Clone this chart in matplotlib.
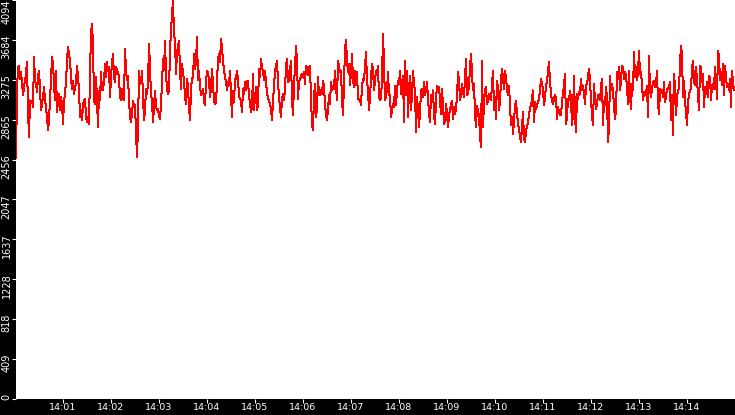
import matplotlib
matplotlib.use("Agg")
import matplotlib.pyplot as plt
import matplotlib.dates as mdates
import matplotlib.transforms as mtransforms
import pandas as pd

# sampled signal, one reading every 1.25 s starting 14:00:01.25
seg1 = [2470, 3166, 3405, 3422, 3285, 3353, 3251, 3115, 3200, 3268,
        3336, 3456, 2961, 2688, 3063, 3046, 3063, 2995, 3507, 3268,
        3234, 3149, 3302, 3370, 3183, 2961, 3029, 3098, 3200, 3063,
        2995, 2893, 2756, 2859, 3063, 3285, 3507, 3439, 3234, 3063,
        3370, 2944, 3063, 3132, 2961, 3098, 3029, 2825, 3063, 3132,
        3251, 3473, 3609, 3541, 3473, 3302, 3183, 3268, 3132, 3200,
        3234, 3422, 3302, 3166, 2893, 2961, 2859, 3012, 3063, 3081,
        2893, 2842, 2893, 2825, 3336, 3746, 3848, 3643, 3063, 3029,
        3302, 3063, 2790, 3166, 3063, 3353, 3166, 3166, 3268, 3439]
seg2 = [3302, 3456, 3370, 3405, 3098, 3302, 3456, 3541, 3302, 3251,
        3405, 3370, 3353, 3302, 3098, 3063, 3183, 3081, 3063, 3592,
        3370, 3268, 3319, 3063, 2893, 2842, 2927, 3063, 2995, 3012,
        2756, 2483, 2790, 3370, 3234, 3251, 3370, 3098, 2859, 2961,
        3183, 3132, 3234, 3643, 3405, 3115, 3063, 2842, 2995, 3166,
        2995, 2961, 2978, 2910, 2876, 3029, 3234, 3490, 3370, 3678,
        3336, 3183, 3132, 3166, 3575, 3780, 3951, 4090, 3746, 3678,
        3336, 3558, 3609, 3678, 3370, 3183, 3439, 3353, 3268, 3098,
        3029, 3285, 3200, 2995]
seg3 = [2859, 3183, 3285, 3302, 3541, 3388, 3456, 3712, 3268, 3370,
        3217, 3115, 3149, 3183, 3063, 3012, 3251, 3370, 3353, 3268,
        3098, 3183, 3388, 3234, 3063, 3029, 3046, 3251, 3490, 3541,
        3456, 3695, 3609, 3456, 3388, 3285, 3268, 3166, 3251, 3217,
        3370, 3132, 2893, 3166, 3046, 3285, 3285, 3370, 3268, 3115,
        3081, 3063, 2944, 3183, 3132, 3251, 3166, 3268, 3268, 3098,
        3046, 2944, 2995, 3336, 2961, 3098, 3200, 2961, 3029, 3388,
        3302, 3490, 3388, 3370, 3268, 3370, 3251, 3149, 3081, 3063,
        3029, 2978, 2859, 3063, 3200]
seg4 = [3370, 3405, 3473, 3251, 3098, 2978, 2893, 3081, 3132, 3063,
        3183, 3405, 3490, 3251, 3268, 3370, 3473, 3063, 2910, 3234,
        3405, 3626, 3456, 3081, 3268, 3268, 3319, 3336, 3302, 3353,
        3234, 3422, 3405, 3319, 3405, 3422, 3081, 2825, 2756, 3098,
        3234, 2893, 2995, 3302, 3115, 3115, 3166, 3132, 3268, 3200,
        3029, 2910, 2859, 2978, 3115, 3029, 3251, 3166, 3217, 3183,
        3370, 3200, 3063, 3473, 3405, 3353, 3370, 3063, 2910, 3234,
        3592, 3684, 3473, 3353, 3439, 3217, 3353, 3541, 3268, 3200,
        3370, 3217, 3353, 3081, 3063, 3081, 3012, 3217, 3285, 3268,
        3405, 3558, 3268, 3166, 2961, 3098, 3302, 3439, 3388, 3166,
        3268, 3370, 3336, 3422, 3098, 3063, 3081, 3285, 3746, 3439,
        3063, 3115, 3166, 3353, 3115]
seg5 = [3115, 2893, 2961, 3029, 2995, 3217, 3012, 3166, 3268, 3234,
        3370, 3132, 3234, 3319, 2842, 3473, 3115, 3370, 2893, 3166,
        3319, 2961, 3132, 3370, 3234, 3166, 2739, 3098, 2961, 2790,
        2944, 3166, 3183, 3098, 3251, 3115, 3166, 3251, 3081, 2927,
        2842, 3115, 3063, 3166, 2910, 2825, 3063, 3217, 3166, 3200,
        3063, 2927, 3183, 2995, 2825, 2859, 3029, 2927, 2790, 2910,
        2961, 3029, 3063, 2876, 2995, 2927, 2978, 3098, 3353, 3268,
        3063, 3132, 3234, 3149, 3098, 3285, 3490, 3115, 3132, 3217,
        3405, 3541, 3336, 3166, 3234, 2927, 2790, 3012, 2944, 2910,
        2705, 2586, 3473, 2790, 3046, 3166, 3200, 3029, 3063, 3132,
        3081, 3063, 3234, 3370, 2961, 3098, 2876, 3268, 3183, 2961,
        3063, 3268, 3388, 3285, 3183]
seg6 = [3370, 3285, 3183, 3115, 3217, 3012, 2808, 2893, 2722, 2859,
        2995, 3063, 2927, 2825, 2773, 2688, 2637, 2790, 2944, 2671,
        2637, 2756, 2790, 2842, 2910, 2995, 3012, 3081, 3166, 2842,
        3046, 2978, 3012, 3046, 3081, 3166, 3285, 3234, 3183, 3012,
        3098, 3217, 3251, 3370, 3456, 3251, 3132, 3063, 3029, 3081,
        3115, 3098, 2876, 2995, 2944, 2910, 2910, 3046, 3132, 3217,
        3336, 2825, 2893, 3081, 3063, 3166, 3081, 2808, 2927, 3319,
        2893, 2739, 3132, 3081, 3149, 3132, 3285, 3166, 3217, 3132,
        3029, 3217, 3234, 3302, 3388, 3268, 3063, 2910, 2808, 3234,
        3063, 2978, 3029, 3115, 3081, 3063, 3200, 3285, 2808, 3063,
        3012, 3200, 3098, 2637, 2790, 3319, 3166, 3234, 3166, 2995,
        2876, 2961, 3353, 3285, 3405]
seg7 = [3166, 3268, 3422, 3405, 3285, 3353, 3319, 3200, 3029, 3370,
        3098, 2978, 3234, 3166, 3558, 3302, 3405, 3268, 3353, 3575,
        3336, 3353, 3234, 3063, 3149, 3115, 3132, 3217, 2893, 3524,
        3166, 3098, 3183, 3251, 3268, 3200, 3217, 3370, 3029, 2927,
        3183, 3149, 3166, 3098, 3251, 3046, 3098, 3183, 3183, 3200,
        3251, 2859, 3115, 2705, 3336, 3200, 2910, 3098, 3166, 3183,
        3439, 3626, 3524, 3098, 3268, 3063, 2944, 2808, 3046, 3115,
        3166, 3183, 3388, 3473, 3268, 3217, 3405, 3268, 3132, 2961,
        3422, 3405, 3251, 3336, 2995, 3200, 3132, 3251, 3098, 3319,
        3302, 3063, 3217, 3234, 3183, 3405, 3268, 3081, 3575, 3524,
        3268, 3353, 3217, 3439, 3115, 3422, 3302, 3200, 3234, 3166,
        3285, 2995, 3370, 3251, 3166]

values = seg1 + seg2 + seg3 + seg4 + seg5 + seg6 + seg7

start = pd.Timestamp("2000-01-01 14:00:01.250")
step = pd.Timedelta(milliseconds=1250)
times = pd.date_range(start, periods=len(values), freq=step)

x_ticks = pd.date_range("2000-01-01 14:01", "2000-01-01 14:14", freq="1min")

y_ticks = [0, 409.4, 818.8, 1228.2, 1637.6, 2047, 2456.4, 2865.8, 3275.2, 3684.6, 4094]
y_labels = ['0', '409', '818', '1228', '1637', '2047', '2456', '2865', '3275', '3684', '4094']

W, H = 735, 415
fig = plt.figure(figsize=(W / 100, H / 100), dpi=100, facecolor='black')
ax = fig.add_axes([16 / W, 16 / H, 719 / W, 399 / H], facecolor='white')

ax.plot(times, values, color='#ff0000', lw=0.72, antialiased=False)

ax.set_xlim(times[0], times[-1] + step)
ax.set_ylim(0, 4094)
for s in ax.spines.values():
    s.set_visible(False)

ax.set_xticks(x_ticks)
ax.xaxis.set_major_formatter(mdates.DateFormatter('%H:%M'))
ax.set_yticks(y_ticks, y_labels)

ax.tick_params(axis='both', colors='white', direction='out', length=3.2, width=0.8)
ax.tick_params(axis='x', pad=0.0, labelsize=6.8)
ax.tick_params(axis='y', pad=0.0, labelsize=7, labelrotation=90)

for lab in ax.get_xticklabels():
    lab.set_fontfamily(['DejaVu Sans'])
up = mtransforms.ScaledTranslation(0, 4 / 72, fig.dpi_scale_trans)
for i, lab in enumerate(ax.get_yticklabels()):
    lab.set_fontfamily(['Liberation Sans Narrow', 'DejaVu Sans'])
    lab.set_va('top')
    if i < len(y_labels) - 1:
        lab.set_transform(lab.get_transform() + up)

fig.savefig('out.png', dpi=100, facecolor='black')
